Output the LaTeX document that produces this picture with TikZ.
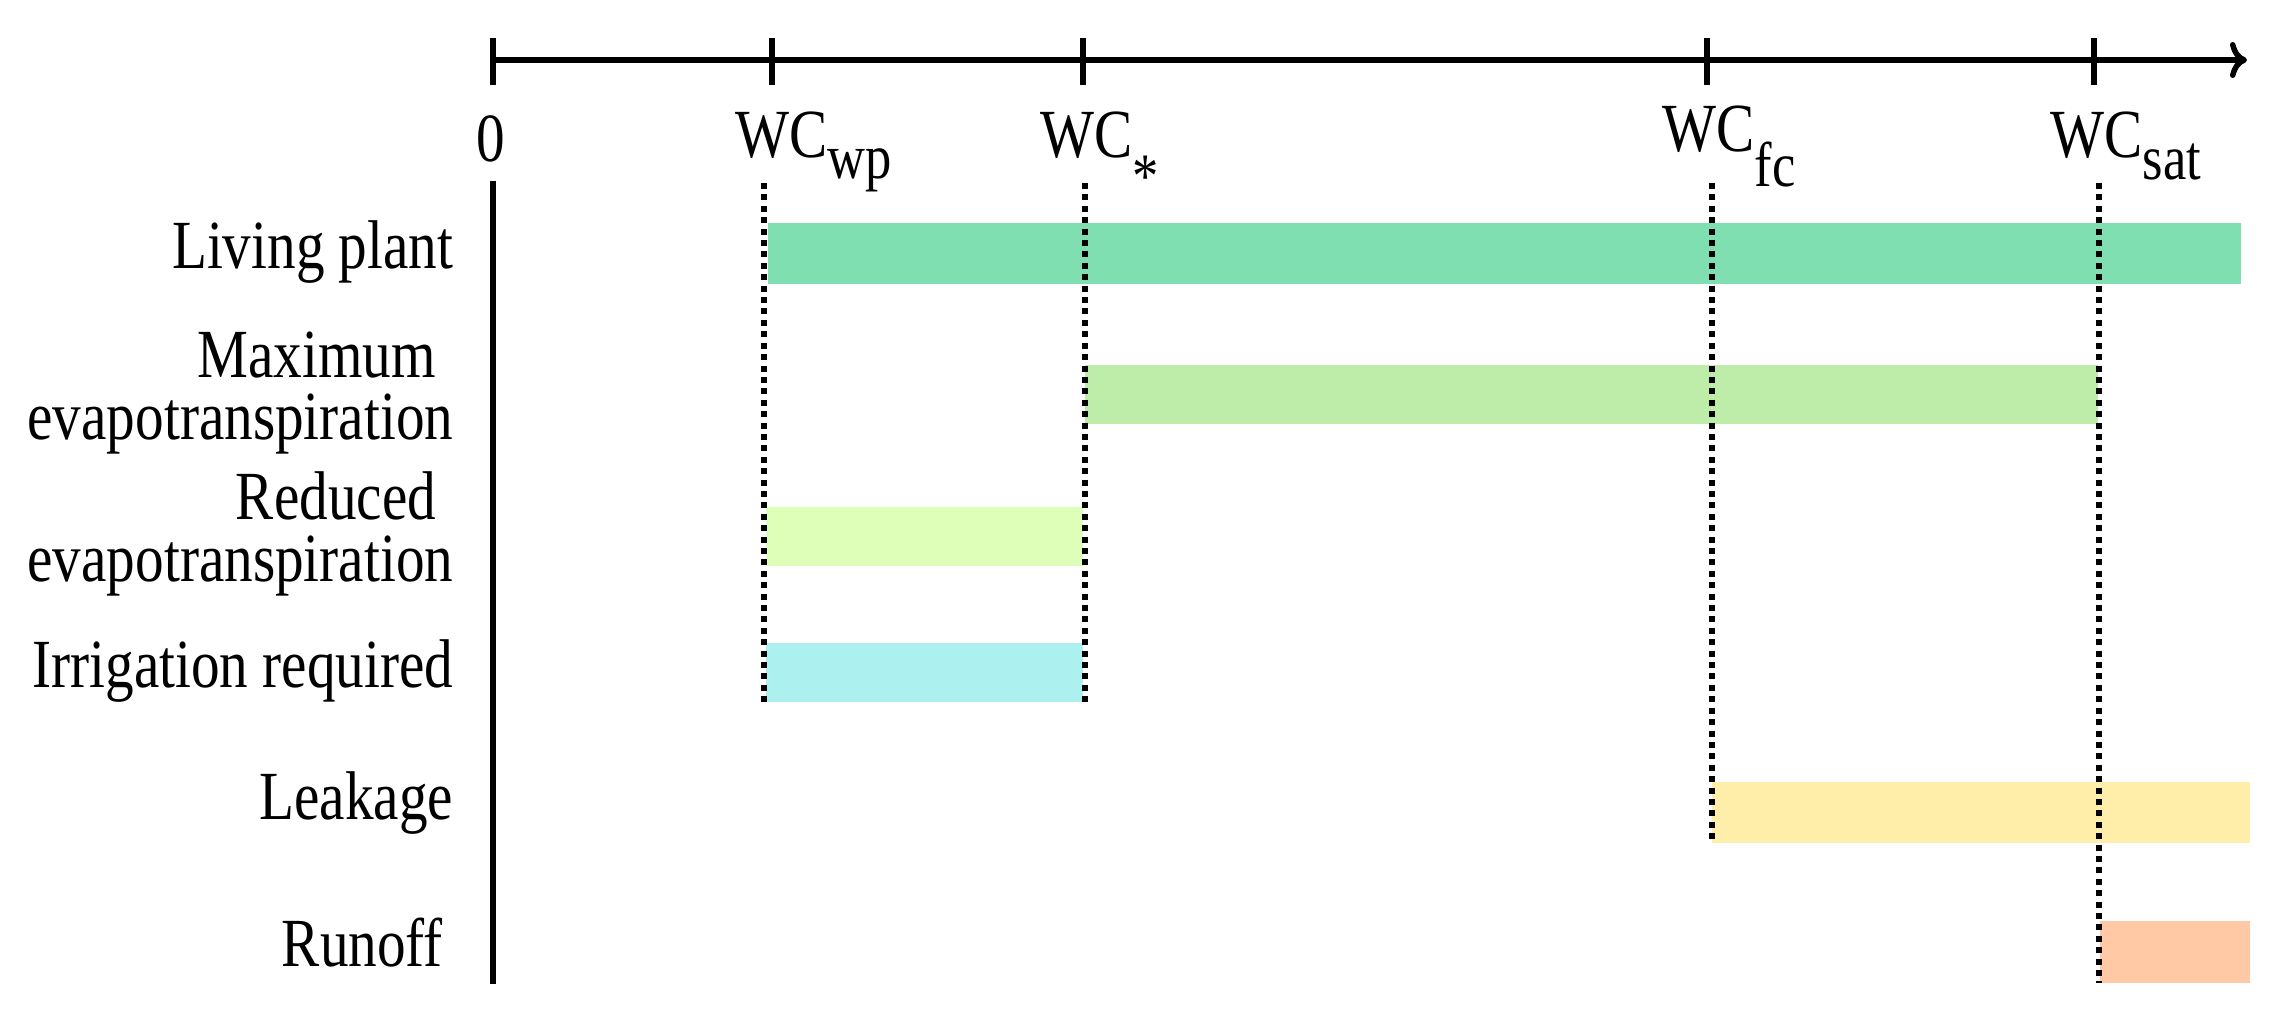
\documentclass[tikz,border=0pt]{standalone}
\usepackage{fontspec}
\setmainfont{Liberation Serif}[FakeStretch=0.83]
\usetikzlibrary{arrows.meta}
\newcommand\lblfont{\fontsize{19.6pt}{17.4pt}\selectfont}
\newcommand\subfont{\fontsize{18pt}{18pt}\selectfont}
\newcommand\lowsub[2]{\raisebox{#1}{\subfont #2}}
\definecolor{livc}{RGB}{128,223,177}
\definecolor{maxc}{RGB}{190,237,170}
\definecolor{redc}{RGB}{222,255,184}
\definecolor{irrc}{RGB}{173,240,240}
\definecolor{leac}{RGB}{255,237,170}
\definecolor{runc}{RGB}{255,201,165}
\begin{document}
\begin{tikzpicture}[x=0.01cm,y=-0.01cm,
  axisline/.style={line width=0.055cm},
  guide/.style={line width=0.06cm, dash pattern=on 0.06cm off 0.054cm},
  rowlabel/.style={anchor=base east, inner sep=0, align=right, font=\lblfont},
  ticklabel/.style={anchor=base west, inner sep=0, font=\lblfont}]
\useasboundingbox (0,0) rectangle (2270,1021);
% axis
\coordinate (ax0) at (493,60);
\coordinate (axend) at (2247,60);
\draw[axisline, -{To[length=0.17cm,width=0.36cm]}] (ax0) -- (axend);
\foreach \x in {493,772,1083,1707,2094}
  \draw[axisline] (\x,38) -- (\x,85);
% tick labels
\node[anchor=base, inner sep=0, font=\lblfont] (l0) at (491,161) {0};
\node[ticklabel] (lwp) at (735,157) {WC\lowsub{-0.21cm}{wp}};
\node[ticklabel] (lst) at (1040,157) {WC\lowsub{-0.40cm}{*}};
\node[ticklabel] (lfc) at (1662,151) {WC\lowsub{-0.35cm}{fc}};
\node[ticklabel] (lsat) at (2050,157) {WC\lowsub{-0.22cm}{sat}};
% left vertical line
\coordinate (v0) at (493,181);
\coordinate (v1) at (493,984);
\draw[axisline] (v0) -- (v1);
% bars
\fill[livc] (768,223) rectangle (2241,284);
\fill[maxc] (1085,365) rectangle (2098,424);
\fill[redc] (766,507) rectangle (1083,566);
\fill[irrc] (766,643) rectangle (1083,702);
\fill[leac] (1712,782) rectangle (2250,843);
\fill[runc] (2100,921) rectangle (2250,983);
% guides
\draw[guide] (764,183) -- (764,702);
\draw[guide] (1085,183) -- (1085,702);
\draw[guide] (1712,183) -- (1712,840);
\draw[guide] (2099,183) -- (2099,983);
% row labels
\node[rowlabel] (rlp) at (454,268) {Living plant};
\node[rowlabel] (rmx) at (454,439) {Maximum\hspace*{0.25em}\\evapotranspiration};
\node[rowlabel] (rrd) at (454,581) {Reduced\hspace*{0.25em}\\evapotranspiration};
\node[rowlabel] (rir) at (454,687) {Irrigation required};
\node[rowlabel] (rlk) at (454,819) {Leakage};
\node[rowlabel] (rro) at (454,966) {Runoff\hspace*{0.15em}};
\end{tikzpicture}
\end{document}
